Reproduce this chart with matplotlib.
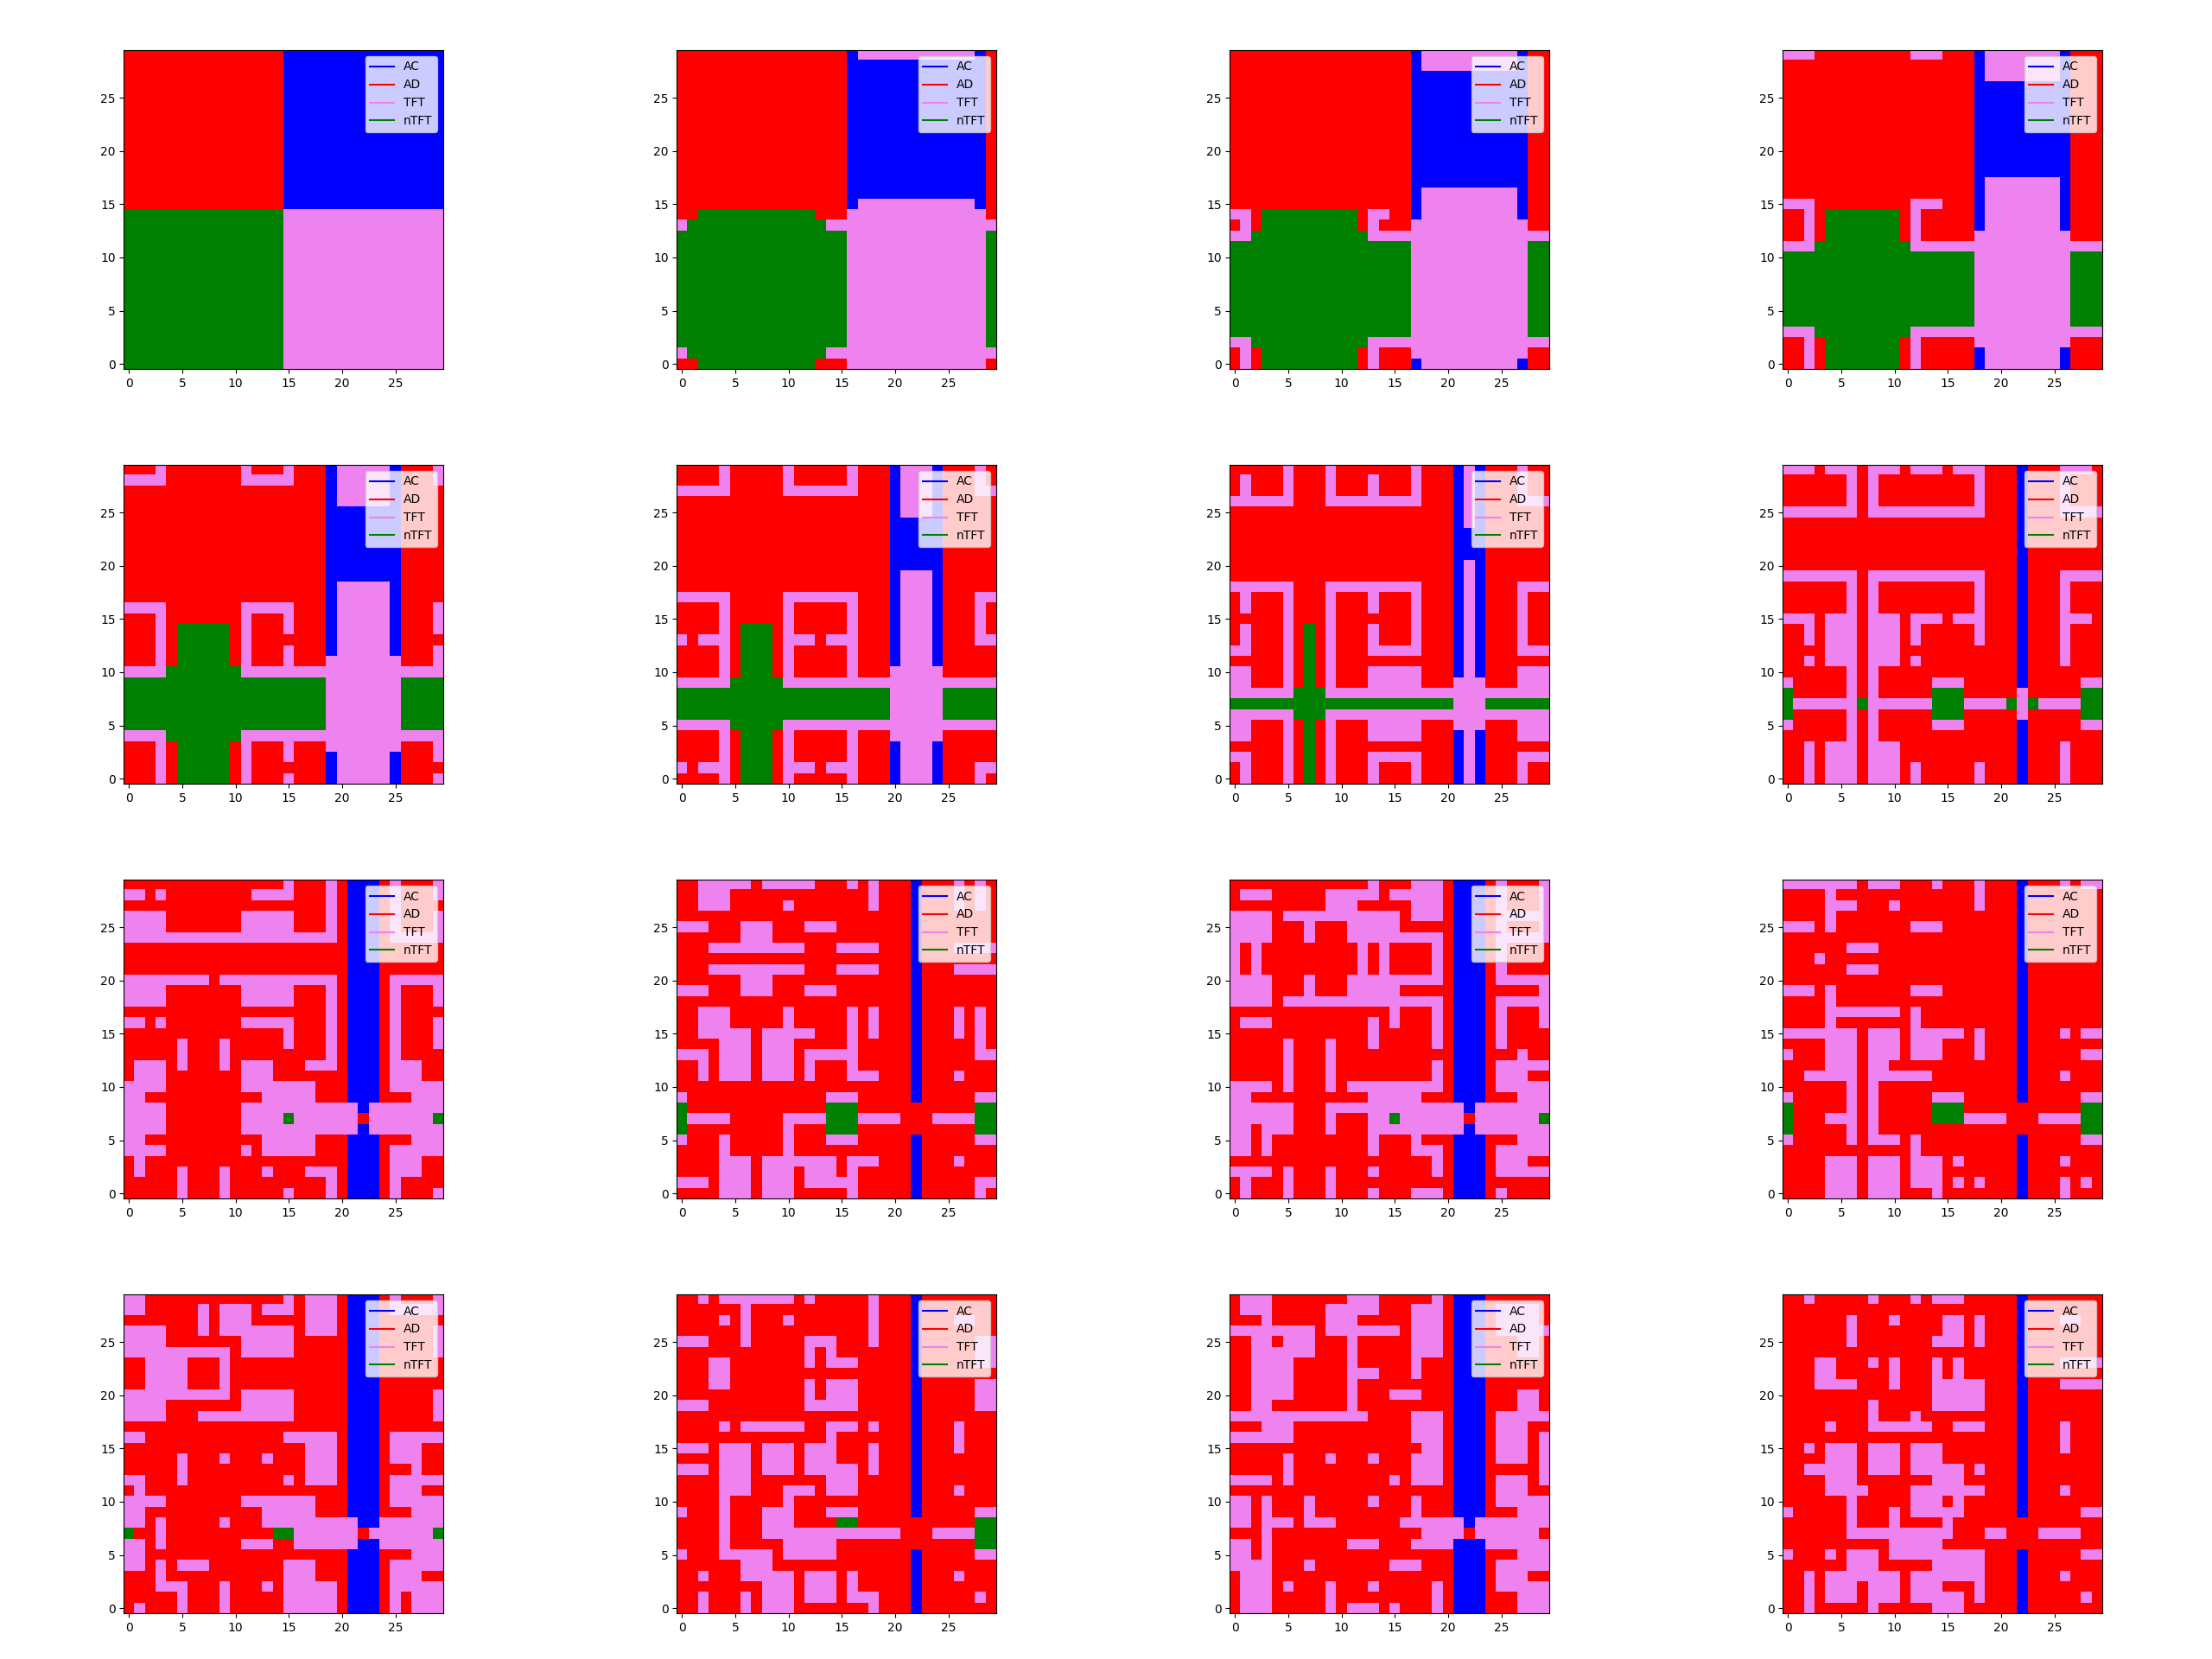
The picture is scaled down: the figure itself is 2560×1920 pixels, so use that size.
import re
import numpy as np
import matplotlib
matplotlib.use("Agg")
import matplotlib.pyplot as plt
from matplotlib.colors import ListedColormap

strategies = ["AC", "AD", "TFT", "nTFT"]
colors = ["blue", "red", "violet", "green"]
codes = {"A": 0, "D": 1, "T": 2, "N": 3}

# Each grid lists rows from row 29 (top) to row 0 (bottom), run-length coded.
grid_01 = ["15D 15A"] * 15 + ["15N 15T"] * 15
grid_02 = (["16D A 11T A D"] + ["16D 13A D"] * 13 + ["16D A 11T A D", "2D 11N 3D 13T D", "T 13N 16T"]
           + ["16N 13T N"] * 11 + ["T 13N 16T", "2D 11N 3D 13T D"])
grid_03 = (["17D A 9T A 2D"] * 2 + ["17D 11A 2D"] * 11 + ["17D A 9T A 2D"] * 2
           + ["2T D 9N D 2T 2D A 9T A 2D", "D T D 9N D T 3D 11T 2D", "2T 11N 17T"]
           + ["17N 11T 2N"] * 9 + ["2T 11N 17T", "D T D 9N D T 3D 11T 2D", "D T D 9N D T 3D A 9T A 2D"])
grid_04 = (["3T 9D 3T 3D A 7T A 3D"] + ["18D A 7T A 3D"] * 2 + ["18D 9A 3D"] * 9 + ["18D A 7T A 3D"] * 2
           + ["3T 9D 3T 3D A 7T A 3D"] + ["2D T D 7N D T 5D A 7T A 3D"] * 2
           + ["2D T D 7N D T 5D 9T 3D", "3T 9N 18T"] + ["18N 9T 3N"] * 7
           + ["3T 9N 18T", "2D T D 7N D T 5D 9T 3D"] + ["2D T D 7N D T 5D A 7T A 3D"] * 2)
grid_05 = (["3D T 7D T 3D T 3D A 5T A 3D T", "4T 7D 5T 3D A 5T A 3D T"] + ["19D A 5T A 4D"] * 2
           + ["19D 7A 4D"] * 7 + ["19D A 5T A 4D"] * 2
           + ["4T 7D 5T 3D A 5T A 3D T", "3D T 7D T 3D T 3D A 5T A 3D T",
              "3D T D 5N D T 3D T 3D A 5T A 3D T", "3D T D 5N D T 7D A 5T A 4D",
              "3D T D 5N D T 3D T 3D A 5T A 3D T", "3D T D 5N D T 3D T 3D 7T 3D T", "4T 7N 19T"]
           + ["19N 7T 4N"] * 5
           + ["4T 7N 19T", "3D T D 5N D T 3D T 3D 7T 3D T", "3D T D 5N D T 3D T 3D A 5T A 3D T",
              "3D T D 5N D T 7D A 5T A 4D", "3D T D 5N D T 3D T 3D A 5T A 3D T"])
grid_06 = (["4D T 5D T 5D T 3D A 3T A 3D T D"] * 2 + ["5T 5D 7T 3D A 3T A 3D 2T"] + ["20D A 3T A 5D"] * 2
           + ["20D 5A 5D"] * 5 + ["20D A 3T A 5D"] * 2 + ["5T 5D 7T 3D A 3T A 3D 2T"]
           + ["4D T 5D T 5D T 3D A 3T A 3D T D"] * 2
           + ["4D T D 3N D T 5D T 3D A 3T A 3D T D", "T D 3T D 3N D 3T D 3T 3D A 3T A 3D 2T"]
           + ["4D T D 3N D T 5D T 3D A 3T A 5D"] * 2 + ["4D T D 3N D T 5D T 3D 5T 5D", "5T 5N 20T"]
           + ["20N 5T 5N"] * 3 + ["5T 5N 20T", "4D T D 3N D T 5D T 3D 5T 5D"]
           + ["4D T D 3N D T 5D T 3D A 3T A 5D"] * 2
           + ["T D 3T D 3N D 3T D 3T 3D A 3T A 3D 2T", "4D T D 3N D T 5D T 3D A 3T A 3D T D"])
grid_07 = (["5D T 3D T 7D T 3D A T A 3D T 2D"] + ["D T 3D T 3D T 3D T 3D T 3D A T A 3D T 2D"] * 2
           + ["6T 3D 9T 3D A T A 3D 3T"] + ["21D A T A 6D"] * 2 + ["21D 3A 6D"] * 3 + ["21D A T A 6D"] * 2
           + ["6T 3D 9T 3D A T A 3D 3T"] + ["D T 3D T 3D T 3D T 3D T 3D A T A 3D T 2D"] * 2
           + ["5D T 3D T 7D T 3D A T A 3D T 2D"] + ["D T 3D T D N D T 3D T 3D T 3D A T A 3D T 2D"] * 2
           + ["2T 3D T D N D T 3D 5T 3D A T A 3D 3T", "5D T D N D T 11D A T A 6D",
              "2T 3D T D N D T 3D 5T 3D A T A 3D 3T", "2T 3D T D N D T 3D 5T 3D 3T 3D 3T",
              "6T 3N 21T", "21N 3T 6N", "6T 3N 21T", "2T 3D T D N D T 3D 5T 3D 3T 3D 3T",
              "2T 3D T D N D T 3D 5T 3D A T A 3D 3T", "5D T D N D T 11D A T A 6D",
              "2T 3D T D N D T 3D 5T 3D A T A 3D 3T"]
           + ["D T 3D T D N D T 3D T 3D T 3D A T A 3D T 2D"] * 2)
grid_08 = (["3T D 3T D 3T D 3T D 3T 3D A 3D 3T D"] + ["6D T D T 9D T 3D A 3D T 3D"] * 3
           + ["7T D 11T 3D A 3D 4T"] + ["22D A 7D"] * 5 + ["7T D 11T 3D A 3D 4T"]
           + ["6D T D T 9D T 3D A 3D T 3D"] * 3 + ["3T D 3T D 3T D 3T D 3T 3D A 3D 3T D"]
           + ["2D T D 3T D 3T D T 5D T 3D A 3D T 3D"] * 2
           + ["4D 3T D 3T 11D A 3D T 3D", "2D T D 3T D 3T D T 9D A 3D T 3D", "6D T D T 13D A 7D",
              "T 5D T D T 5D 3T 5D A 5D 2T", "N 5D T D T 5D 3N 5D T 5D 2N",
              "N 6T N 6T 3N 4T N T N 4T 2N", "N 5D T D T 5D 3N 5D T 5D 2N",
              "T 5D T D T 5D 3T 5D A 5D 2T", "6D T D T 13D A 7D"]
           + ["2D T D 3T D 3T 11D A 3D T 3D"] * 2 + ["2D T D 3T D 3T D T 5D T 3D A 3D T 3D"] * 2)
grid_09 = ["15D T 3D T D 3A D T 3D T", "2T D T 8D 4T 3D T D 3A D T 3D T", "19D T D 3A D T 4D",
           "4T 7D 5T 3D T D 3A D T 3D T", "4T 7D 5T 3D T D 3A D T 3D T", "20T D 3A D 5T",
           "21D 3A 6D", "21D 3A 6D", "21D 3A 6D", "8T D 11T D 3A D 5T",
           "4T 7D 5T 3D T D 3A D T 3D T", "4T 7D 5T 3D T D 3A D T 3D T", "19D T D 3A D T 4D",
           "2T D T 7D 5T 3D T D 3A D T 3D T", "15D T 3D T D 3A D T 3D T",
           "5D T 3D T 5D T 3D T D 3A D T 3D T", "5D T 3D T 9D T D 3A D T 4D",
           "D 3T D T 3D T D 3T 3D 3T D 3A D 3T 2D", "D 3T 7D 3T 7D 3A D 3T 2D",
           "4T 7D 7T 3D 3A D 5T", "2T 11D 5T 3D 3A 3D 3T", "4T 7D 11T A 7T",
           "4T 7D 4T N 6T D 6T N", "4T 7D 11T A 7T", "2T 11D 5T 3D 3A 3D 3T",
           "4T 7D T D 5T 3D 3A D 5T", "D T 19D 3A D 3T 2D",
           "D T 3D T 3D T 3D T 3D 3T D 3A D 3T 2D", "5D T 3D T 9D T D 3A D T 4D",
           "5D T 3D T 5D T 3D T D 3A D T 3D T"]
grid_10 = ["2D 5T D 5T 3D T D T 3D A 3D T D T D", "2D 3T 13D T 3D A 3D T D T D",
           "2D 3T 5D T 7D T 3D A 3D T D T D", "22D A 7D", "3T 3D 3T 3D 3T 7D A 7D",
           "6D 3T 13D A 7D", "3D 9T 3D 4T 3D A 3D 4T", "22D A 7D", "3D 9T 3D 4T 3D A 3D 4T",
           "6D 3T 13D A 7D", "3T 3D 3T 3D 3T 7D A 7D", "22D A 7D",
           "2D 3T 5D T 5D T D T 3D A 3D T D T D", "2D 3T 5D T 5D T D T 3D A 3D T D T D",
           "2D 5T D 5T 3D T D T 3D A 3D T D T D", "4D 3T D 3T 5D T 5D A 5D T D",
           "3T D 3T D 3T D 5T 5D A 5D 2T", "2D T D 3T D 3T D T 3D T 5D A 7D",
           "2D T D 3T D 3T D T 3D 3T 3D A 3D T 3D", "22D A 7D", "T 13D 3T 5D A 5D 2T",
           "N 13D 3N 11D 2N", "N 4T 5D 4T 3N 4T 3D 4T 2N", "N 9D T 3D 3N 11D 2N",
           "T 3D T 5D T 3D 3T 5D A 5D 2T", "4D T 5D T 11D A 7D", "4D 3T D 7T D 3T 3D A 3D T 3D",
           "4D 3T D 3T D 3T D T 5D A 7D", "3T D 3T D 3T D 5T 5D A 5D 2T",
           "4D 3T D 3T 5D T 5D A 5D T D"]
grid_11 = ["13D T 3D 3T D 3A D T 3D T", "D 3T 5D 5T D 5T D 3A D T 3D T", "9D 3T 5D 3T D 3A D T 3D T",
           "4T D 11T D 3T D 3A D 5T", "4T 3D T 3D 5T 5D 3A D T 3D T", "4T 3D T 3D 9T D 3A D 5T",
           "T D T 9D T D T 4D T D 3A D T 4D", "T D T 9D T D T 4D T D 3A D T 4D",
           "T D T 9D T D T 4D T D 3A D T 4D", "4T 3D T 3D 9T D 3A D 5T", "4T 3D T 3D 5T 5D 3A 5D T",
           "4T D 15T D 3A D 5T", "15D T 3D T D 3A D T 3D T", "D 3T 9D T D T 3D T D 3A D T 3D T",
           "13D T 5D T D 3A D T 4D", "5D T 3D T 3D T 5D T D 3A D T 4D", "5D T 3D T 11D 3A 3D T 2D",
           "5D T 3D T 9D T D 3A D 5T", "5D T 3D T 9D T D 3A D 3T 2D", "4T D T 3D T D 9T D 3A D 5T",
           "2T 11D 5T 3D 3A 3D 3T", "6T 3D 13T A 7T", "6T 3D T 3D 2T N 6T D 6T N",
           "2T D 3T 3D T 3D 9T A 7T", "2T D T 9D T 3D T 3D 3A 3D 3T", "2T D T 9D T 3D 3T D 3A D 5T",
           "19D T D 3A D 3T 2D", "4T D T 3D T 3D T 5D T D 3A D 5T", "D T 3D T 3D T 11D 3A 6D",
           "D T 3D T 3D T 3D T 3D 3T D 3A D T 4D"]
grid_12 = ["7T D 3T 3D T 3D T 3D A 3D T D 2T", "4D T 13D T 3D A 7D", "4D 3T 3D T 7D T 3D A 7D",
           "4D T 17D A 7D", "3T D T 7D 3T 7D A 7D", "22D A 7D", "6D 3T 13D A 7D", "3D T 18D A 7D",
           "6D 3T 13D A 7D", "22D A 7D", "3T D T 7D 3T 7D A 7D", "4D T 17D A 7D",
           "4D 7T D T 9D A 7D", "4D T 7D T 9D A 7D", "7T D 3T D 5T D T 3D A 3D T D 2T",
           "4D 3T D 3T D 3T 3D T 3D A 7D", "T 3D 3T D 3T D 3T 3D T 3D A 5D 2T",
           "4D 3T D 2T 12D A 7D", "2D 5T D 6T 8D A 3D T 3D", "6D T D T 13D A 7D",
           "T 5D T D T 5D 3T 5D A 5D 2T", "N 5D T D T 5D 3N 11D 2N", "N 3D 3T D T 5D 3N 4T 3D 4T 2N",
           "N 5D T D T 19D 2N", "T 5D T D 3T D T 9D A 5D 2T", "12D T 9D A 7D",
           "4D 3T D 3T D 3T D T 5D A 3D T 3D", "4D 3T D 3T D 3T 7D A 7D",
           "4D 3T D 3T D 3T D T D T 3D A 3D T D T D", "4D 3T D 3T 3D T 7D A 3D T 3D"]
grid_13 = ["2T 13D T D 3T D 3A D T 3D T", "2T 5D T D 3T D 3T D 3T D 3A D 5T", "7D T D 3T 5D 3T D 3A 6D",
           "4T 3D T D 7T D 3T D 3A 5D T", "4T 7D 5T 5D 3A 5D T", "10T D 5T 5D 3A 5D T",
           "2D 4T 3D T 11D 3A 6D", "2D 4T 3D T 11D 3A 6D", "2D 4T 3D T 11D 3A 6D",
           "10T D 5T 5D 3A 5D T", "4T 7D 5T 5D 3A 5D T", "4T 3D 9T 5D 3A 5D T", "21D 3A 6D",
           "2T 13D 5T D 3A D 5T", "17D 3T D 3A D 3T 2D", "5D T 3D T 3D T 3D 3T D 3A D 3T 2D",
           "5D T 11D 3T D 3A 3D T 2D", "2T 3D T 9D T D 3T D 3A D 5T", "D T 19D 3A D 3T 2D",
           "4T 7D 7T 3D 3A D 5T", "2T 11D 5T 3D 3A 3D 3T", "2T D T 5D T 3D 9T 2A 6T",
           "N 2D T 10D 2N 6T D 6T N", "2T D T 7D 3T 2D 6T 2A 6T", "2T 19D 3A 3D 3T",
           "2T D T D 3T 7D 3T 3D 3A D 5T", "3D T 11D 3T 3D 3A D 3T 2D",
           "3D 3T 3D T 3D T D 5T D 3A D 5T", "5D T 3D T 5D 5T D 3A D T D 3T",
           "D T 3D T 3D T 5D 5T D 3A D T D 3T"]
grid_14 = ["2D T D 7T D T 5D T 3D A 7D", "6D T 11D T 3D A 7D", "4D T D T 3D T 7D T 3D A 3D 2T 2D",
           "6D T 11D T 3D A 7D", "3T 3D T 5D 3T 3D T 3D A 5D 2T", "12D T D T 7D A 5D 2T",
           "3D 2T 7D T D 3T 5D A 5D 2T", "3D 2T 17D A 7D", "3D 2T 7D T D 3T 5D A 5D 2T",
           "12D T D 3T 5D A 5D 2T", "3T 9D 5T 5D A 5D 2T", "22D A 7D",
           "4D T D 6T 2D 3T D T 3D A 3D T 3D", "14D T 7D A 3D T 3D",
           "3T D 3T D 3T D 3T 3D T 3D A 3D T 3D", "4D 3T D 3T D 3T 3D T 3D A 7D",
           "3T D 3T D 3T D 5T D T 3D A 7D", "4D 3T 7D 3T 5D A 7D", "4D 3T 3D 3T D 3T 5D A 3D T 3D",
           "4D T 5D T 11D A 7D", "T 3D T 3D 3T 3D 3T 5D A 5D 2T", "4D T 3D 3T 4D 2N 11D 2N",
           "4D T 3D 13T 3D 4T 2N", "4D T 5D 5T 13D 2N", "T 3D 5T D 5T 7D A 5D 2T", "6D 3T 13D A 7D",
           "2D T 3D 5T D 3T D T 5D A 3D T 3D", "8D 3T D 3T D T 5D A 7D",
           "2D T 3D T D 3T D 3T D 3T 3D A 5D T D", "2D T 3D T D 3T 7D T 3D A 7D"]
grid_15 = ["D 3T 7D 3T 5D T D 3A 6D", "D 3T 5D 5T 3D 3T D 3A D 4T D", "3D T 5D 3T 5D 3T D 3A D 4T D",
           "8T D 7T D 3T D 3A D 5T", "2D 2T D 3T 3D T 5D 3T D 3A 3D 2T D", "2D 6T 3D T 5D 3T D 3A 3D 2T D",
           "2D 4T 5D T 5D T 3D 3A 6D", "2D 4T 5D 3T 3D T 3D 3A 6D", "2D 4T 5D T 9D 3A 6D",
           "2D 4T 5D T 3D 3T 3D 3A 3D 2T D", "2D 2T 7D T 9D 3A 3D 2T D", "13T 4D 3T D 3A D 5T",
           "3D 3T 11D 3T D 3A D 3T 2D", "6T 11D 3T D 3A D 3T D T", "18D 2T D 3A D 3T D T",
           "5D T 3D T 3D T 3D 3T D 3A D 3T D T", "5D T 11D 3T D 3A 5D T",
           "4T D T 9D T D 3T D 3A D 3T D T", "21D 3A D 3T 2D", "2T D T 3D T 5D T 3D T 3D 3A D 5T",
           "2T D T 3D T 9D T 3D 3A 3D 3T", "2T D 3T D 3T 6D 6T A 7T", "3D T 14D 4T D 6T D",
           "2T D T 7D 3T 3D 4T 3A 6T", "2T D T 17D 3A 3D 3T", "4T 3D T 7D 3T 3D 3A D 5T",
           "D 3T 17D 3A D 3T 2D", "D 3T D T 3D T 3D T 5D T D 3A D 5T", "D 3T 5D T 9D T D 3A 3D 3T",
           "D 3T 5D T D 3T D T 3D T D 3A 3D 3T"]
grid_16 = ["2D T 5D T 3D T D 3T 5D A 7D", "22D A 7D", "6D T 3D T 4D 2T D T 3D A 3D 2T 2D",
           "6D T 8D 2T D T 3D A 7D", "6D T 7D 3T D T 3D A 7D", "22D A 7D",
           "3D 2T 3D T D T 3D T D T 5D A 3D 4T", "3D 2T 5D T 3D T D T 5D A 7D",
           "3D 4T 3D T 3D 5T 3D A 3D 4T", "14D 5T 3D A 7D", "8D T 5D 5T 3D A 7D",
           "8D T 3D T 9D A 7D", "4D T 3D 6T 2D 3T 3D A 3D T 3D", "22D A 3D T 3D",
           "2D T D 3T D 3T D 3T 7D A 3D T 3D", "4D 3T D 3T D 3T 7D A 7D",
           "2D 5T D 3T D 5T D T 3D A 7D", "4D 3T 7D 3T 5D A 7D", "4D 4T 4D 7T 3D A 3D T 3D",
           "6D T 5D 3T D T 5D A 7D", "T 5D T 3D T D 5T 5D A 5D 2T", "6D T 3D T 4D T 14D",
           "6D 10T 3D 2T 3D 4T 2D", "10D 5T 15D", "T 3D T D 3T D 9T 3D A 5D 2T",
           "6D 3T 5D 5T 3D A 7D", "2D T D 7T D 7T 3D A 3D T 3D",
           "2D T D 3T D 3T D 3T 3D T 3D A 7D", "2D T D 3T D 3T D 5T D T 3D A 5D T D",
           "2D T 5D T 5D 3T 5D A 7D"]

grids = [grid_01, grid_02, grid_03, grid_04, grid_05, grid_06, grid_07, grid_08,
         grid_09, grid_10, grid_11, grid_12, grid_13, grid_14, grid_15, grid_16]


def decode(rows, name):
    out = []
    if len(rows) != 30:
        raise ValueError(f"{name}: {len(rows)} rows")
    for k, row in enumerate(rows):
        cells = []
        for count, letter in re.findall(r"(\d*)([ADTN])", row):
            cells += [codes[letter]] * (int(count) if count else 1)
        if len(cells) != 30:
            raise ValueError(f"{name} row {29 - k}: {len(cells)} cells in {row}")
        out.append(cells)
    return np.array(out[::-1])


W, H = 2560, 1920
fig = plt.figure(figsize=(W / 100, H / 100), dpi=100)
cmap = ListedColormap(colors)
for i, rows in enumerate(grids):
    r, c = divmod(i, 4)
    left = 143.3 + 640 * c
    top = 58.0 + 480 * r
    ax = fig.add_axes([left / W, 1 - (top + 369.2) / H, 369.8 / W, 369.2 / H])
    ax.imshow(decode(rows, f"grid_{i + 1}"), cmap=cmap, vmin=0, vmax=3, origin="lower",
              interpolation="nearest", aspect="auto")
    for name, col in zip(strategies, colors):
        ax.plot([], [], color=col, label=name)
    ax.set_xticks(range(0, 30, 5))
    ax.set_yticks(range(0, 30, 5))
    ax.legend(loc="upper right")

fig.savefig("out.png", dpi=100)
